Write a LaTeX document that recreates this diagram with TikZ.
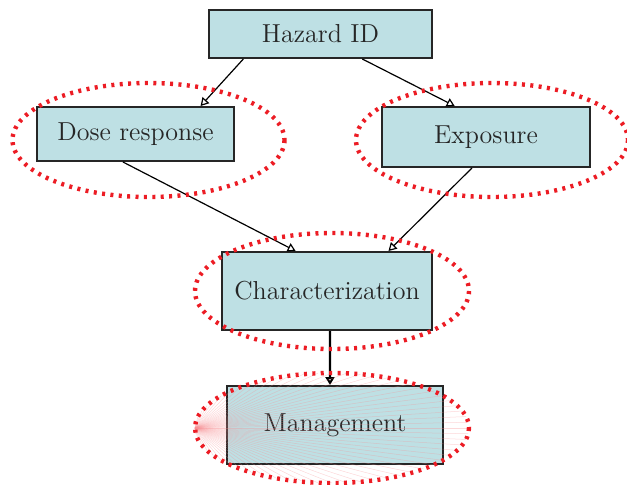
\documentclass[tikz,border=0pt]{standalone}
\usetikzlibrary{arrows.meta, calc}
\definecolor{boxfill}{RGB}{190,224,228}
\definecolor{ringred}{RGB}{236,28,36}

\begin{document}
\begin{tikzpicture}[x=0.5pt, y=-0.5pt,
    stage/.style={draw=black!85, line width=1pt, fill=boxfill, inner sep=0pt,
      text=black!85, font=\fontsize{13}{15}\selectfont},
    ring/.style={draw=ringred, line width=2.2pt, dash pattern=on 1.5pt off 2.7pt},
    link/.style={-{Triangle[open, length=4pt, width=4.5pt]}, line width=0.6pt}]
    \useasboundingbox (0,0) rectangle (627,484);

    % Boxes
    \node[stage, minimum width=111.5pt, minimum height=24pt] (hazard) at (320.5,34) {Hazard ID};
    \node[stage, minimum width=98.5pt, minimum height=27pt] (dose) at (135.5,134) {Dose response};
    \node[stage, minimum width=104pt, minimum height=30pt] (expo) at (486,137) {Exposure};
    \node[stage, minimum width=105pt, minimum height=39pt] (charac) at (327,291) {Characterization};
    \node[stage, minimum width=108pt, minimum height=39pt] (manage) at (335,425) {Management};

    % Connectors
    \draw[link] ($(hazard.south west)!0.157!(hazard.south east)$) -- ($(dose.north west)!0.827!(dose.north east)$);
    \draw[link] ($(hazard.south west)!0.686!(hazard.south east)$) -- ($(expo.north west)!0.351!(expo.north east)$);
    \draw[link] ($(dose.south west)!0.437!(dose.south east)$) -- ($(charac.north west)!0.352!(charac.north east)$);
    \draw[link] ($(expo.south west)!0.433!(expo.south east)$) -- ($(charac.north west)!0.79!(charac.north east)$);
    \draw[link, line width=1.2pt] ($(charac.south west)!0.514!(charac.south east)$) -- ($(manage.north west)!0.477!(manage.north east)$);

    % Faint rays in the lowest ring
    \foreach \a in {-174,-168,...,174}
        \draw[ringred!50, line width=0.25pt, opacity=0.35] (195,428) -- ($(332,428)+(\a:137 and 55)$);

    % Dotted rings
    \draw[ring] (148.5,140) ellipse [x radius=136, y radius=57];
    \draw[ring] (492,140) ellipse [x radius=136, y radius=57];
    \draw[ring] (332,291) ellipse [x radius=137, y radius=58];
    \draw[ring] (332,428) ellipse [x radius=137, y radius=55];
\end{tikzpicture}
\end{document}
